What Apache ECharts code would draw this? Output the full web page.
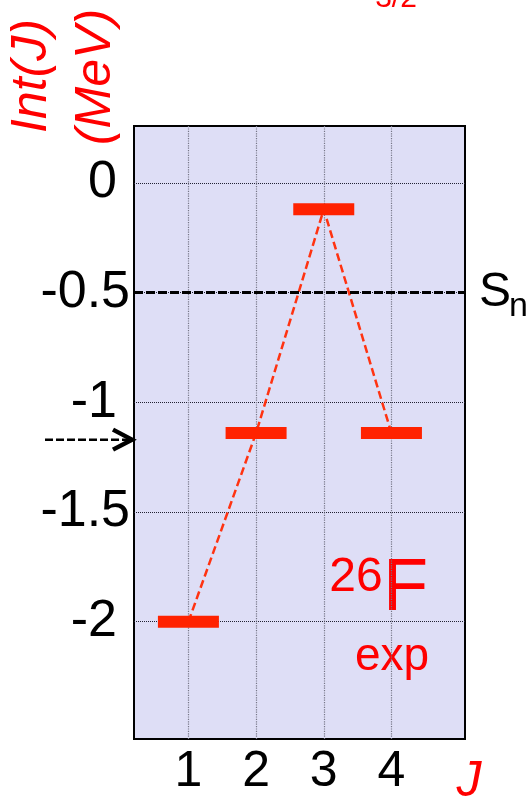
<!DOCTYPE html>
<html>
<head>
<meta charset="utf-8">
<script src="https://cdn.jsdelivr.net/npm/echarts@6/dist/echarts.min.js"></script>
<style>
html,body{margin:0;padding:0;background:#fff;}
#c{width:530px;height:801px;}
</style>
</head>
<body>
<div id="c"></div>
<script>
// ---- data ----
const spinJ = [1, 2, 3, 4];
const intEnergy = [-2.0, -1.14, -0.12, -1.14];
const snEnergy = -0.5;
const arrowEnergy = -1.17;
const yTickValues = [0, -0.5, -1, -1.5, -2];
const yTickLabels = ['0', '-0.5', '-1', '-1.5', '-2'];
const xTickValues = [1, 2, 3, 4];
const xTickLabels = ['1', '2', '3', '4'];
const yRange = [-2.535, 0.26];
const xRange = [0.196, 5.087];

const FONT = '"Liberation Sans", Arial, sans-serif';
const RED = '#ff0000';
const BAR = '#ff2200';

const chart = echarts.init(document.getElementById('c'), null, {renderer: 'canvas'});

const levelData = spinJ.map((j, i) => [j, intEnergy[i]]);

function txt(id, text, x, y, font, fill, align, extra) {
  return Object.assign({
    id: id, type: 'text', x: x, y: y,
    style: {text: text, font: font, fill: fill, textAlign: align, textVerticalAlign: 'middle', align: align, verticalAlign: 'middle'}
  }, extra || {});
}

const texts = [
  txt('t32', '3/2', 396, -1, '30px ' + FONT, RED, 'center'),
  txt('tInt', 'Int(J)', 32, 76, 'italic 50px ' + FONT, RED, 'center', {rotation: Math.PI / 2}),
  txt('tMeV', '(MeV)', 96, 77, 'italic 50px ' + FONT, RED, 'center', {rotation: Math.PI / 2}),
  txt('t26', '26', 356, 578, '48px ' + FONT, RED, 'center'),
  txt('tF', 'F', 383, 590, '74px ' + FONT, RED, 'left'),
  txt('tExp', 'exp', 392, 657, '46px ' + FONT, RED, 'center'),
  txt('tJ', 'J', 469, 782, 'italic 50px ' + FONT, RED, 'center'),
  txt('tSn', 'n', 509, 307, '34px ' + FONT, '#000', 'left')
];

const option = {
  animation: false,
  backgroundColor: '#ffffff',
  grid: {
    left: 134, top: 126, right: 65, bottom: 62,
    show: true, backgroundColor: '#dedef6', borderColor: '#000000', borderWidth: 2,
    containLabel: false
  },
  xAxis: {
    type: 'value', min: xRange[0], max: xRange[1],
    axisLine: {show: false},
    axisTick: {show: false, customValues: xTickValues},
    axisLabel: {
      customValues: xTickValues,
      formatter: v => xTickLabels[xTickValues.indexOf(v)] ?? '',
      fontFamily: FONT, fontSize: 50, color: '#000', margin: 8
    },
    splitLine: {show: true, lineStyle: {type: 'dotted', color: '#777788', width: 1.2}}
  },
  yAxis: {
    type: 'value', min: yRange[0], max: yRange[1],
    axisLine: {show: false},
    axisTick: {show: false, customValues: yTickValues},
    axisLabel: {
      customValues: yTickValues,
      formatter: v => {
        const idx = yTickValues.indexOf(v);
        if (idx < 0) return '';
        const s = yTickLabels[idx];
        return Number.isInteger(v) ? '{i|' + s + '}' : '{f|' + s + '}';
      },
      rich: {
        i: {fontFamily: FONT, fontSize: 52, color: '#000', padding: [0, 13, 0, 0]},
        f: {fontFamily: FONT, fontSize: 52, color: '#000'}
      },
      fontFamily: FONT, fontSize: 52, color: '#000', margin: 4
    },
    splitLine: {show: true, lineStyle: {type: 'dotted', color: '#222233', width: 1}}
  },
  graphic: texts,
  series: [
    {
      type: 'scatter', data: [], z: 1, silent: true,
      markLine: {
        silent: true, symbol: 'none', animation: false,
        lineStyle: {color: '#000', type: [9, 3], width: 3},
        label: {
          show: true, position: 'end', distance: 14,
          formatter: 'S',
          fontFamily: FONT, fontSize: 48, color: '#000'
        },
        data: [{yAxis: snEnergy}]
      }
    },
    {
      type: 'line', data: levelData, z: 2, silent: true,
      showSymbol: false, symbol: 'none',
      lineStyle: {color: '#ff3311', width: 2.5, type: [8, 4]}
    },
    {
      type: 'scatter', data: levelData, z: 3, silent: true,
      symbol: 'rect', symbolSize: [61, 12],
      itemStyle: {color: BAR, opacity: 1}
    }
  ]
};

chart.setOption(option);

// arrow annotation pointing at arrowEnergy on the y axis
const py = chart.convertToPixel({yAxisIndex: 0}, arrowEnergy);
const leftPx = chart.convertToPixel({xAxisIndex: 0}, xRange[0]);
chart.setOption({
  graphic: texts.concat([
    {id: 'arrLine', type: 'line', shape: {x1: 45, y1: py, x2: leftPx - 6, y2: py},
      style: {stroke: '#000', lineWidth: 2.5, lineDash: [8, 3]}},
    {id: 'arrHead', type: 'polyline', shape: {points: [[leftPx - 21, py - 10], [leftPx - 2, py], [leftPx - 21, py + 10]]},
      style: {stroke: '#000', lineWidth: 4.5, fill: null, lineJoin: 'miter'}}
  ])
});
</script>
</body>
</html>
